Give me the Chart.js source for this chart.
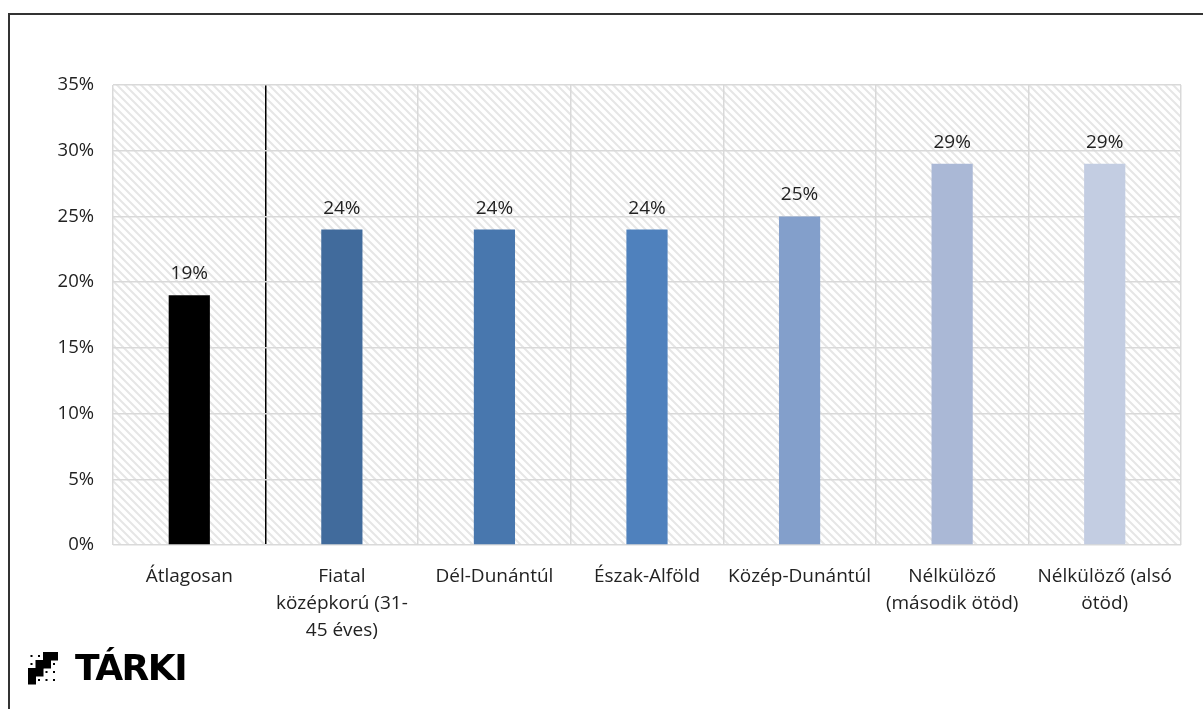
<!DOCTYPE html>
<html lang="hu">
<head>
<meta charset="UTF-8">
<title>Csoportok aránya</title>
<style>
  html, body {
    margin: 0;
    padding: 0;
    width: 1203px;
    height: 709px;
    overflow: hidden;
    background: #fff;
    font-family: 'Open Sans', sans-serif;
  }
  .frame {
    position: absolute;
    left: 8px;
    top: 13px;
    width: 1300px;
    height: 800px;
    border: 2px solid #333;
    box-sizing: border-box;
  }
  #chart {
    position: absolute;
    left: 0;
    top: 0;
  }
  .logo {
    position: absolute;
    left: 28px;
    top: 648px;
    display: flex;
    align-items: center;
  }
  .logo canvas {
    margin-right: 17px;
  }
  .logo span {
    font-family: 'DejaVu Sans', sans-serif;
    font-weight: bold;
    font-size: 36px;
    letter-spacing: -1.5px;
    color: #000;
    line-height: 40px;
  }
</style>
<script src="https://cdn.jsdelivr.net/npm/chart.js"></script>
</head>
<body>
<div class="frame"></div>
<canvas id="chart" width="1203" height="709"></canvas>
<div class="logo">
  <canvas id="logoIcon" width="30" height="33"></canvas>
  <span>TÁRKI</span>
</div>

<script>
const categories = [
  'Átlagosan',
  ['Fiatal', 'középkorú (31-', '45 éves)'],
  'Dél-Dunántúl',
  'Észak-Alföld',
  'Közép-Dunántúl',
  ['Nélkülöző', '(második ötöd)'],
  ['Nélkülöző (alsó', 'ötöd)']
];
const shares = [19, 24, 24, 24, 25, 29, 29];
const barColors = ['#000000', '#416b9c', '#4877ae', '#4f81bd', '#839fcb', '#aab8d6', '#c3cde2'];
const tickValues = [0, 5, 10, 15, 20, 25, 30, 35];

// diagonal hatch for the plot background
function makeHatch(ctx) {
  const tile = document.createElement('canvas');
  tile.width = 8;
  tile.height = 8;
  const t = tile.getContext('2d');
  t.fillStyle = '#ffffff';
  t.fillRect(0, 0, 8, 8);
  t.strokeStyle = '#e6e6e6';
  t.lineWidth = 2;
  t.beginPath();
  t.moveTo(-2, -2); t.lineTo(10, 10);
  t.moveTo(-10, -2); t.lineTo(2, 10);
  t.moveTo(6, -2); t.lineTo(18, 10);
  t.stroke();
  return ctx.createPattern(tile, 'repeat');
}

const hatchPlugin = {
  id: 'hatch',
  beforeDraw(chart) {
    const { ctx, chartArea: a } = chart;
    ctx.save();
    ctx.fillStyle = makeHatch(ctx);
    ctx.fillRect(a.left, a.top, a.right - a.left, a.bottom - a.top);
    ctx.restore();
  }
};

const valueLabels = {
  id: 'valueLabels',
  afterDatasetsDraw(chart) {
    const ctx = chart.ctx;
    const meta = chart.getDatasetMeta(0);
    ctx.save();
    ctx.font = '19px "Open Sans", sans-serif';
    ctx.fillStyle = '#222';
    ctx.textAlign = 'center';
    ctx.textBaseline = 'alphabetic';
    meta.data.forEach((bar, i) => {
      ctx.fillText(shares[i] + '%', bar.x, bar.y - 16);
    });
    ctx.restore();
  }
};

new Chart(document.getElementById('chart').getContext('2d'), {
  type: 'bar',
  data: {
    labels: categories,
    datasets: [{
      data: shares,
      backgroundColor: barColors,
      barPercentage: 0.27,
      categoryPercentage: 1
    }]
  },
  options: {
    responsive: false,
    animation: false,
    layout: { padding: { top: 85, right: 22, left: 0, bottom: 0 } },
    plugins: {
      legend: { display: false },
      tooltip: { enabled: false }
    },
    scales: {
      x: {
        afterFit(s) { s.height = 164; },
        grid: {
          offset: true,
          drawTicks: false,
          lineWidth: 1.5,
          color: ctx => ctx.index === 1 ? '#000000' : '#d9d9d9'
        },
        border: { display: false },
        ticks: {
          color: '#222',
          padding: 18,
          maxRotation: 0,
          autoSkip: false,
          font: { family: 'Open Sans', size: 19, lineHeight: 1.42 }
        }
      },
      y: {
        min: 0,
        max: 35,
        afterFit(s) { s.width = 113; },
        afterBuildTicks(s) { s.ticks = tickValues.map(v => ({ value: v })); },
        grid: { drawTicks: false, color: '#d9d9d9', lineWidth: 1.5 },
        border: { display: false },
        ticks: {
          color: '#222',
          padding: 19,
          font: { family: 'Open Sans', size: 18.5 },
          callback: v => v + '%'
        }
      }
    }
  },
  plugins: [hatchPlugin, valueLabels]
});

// stair icon of the logo
const cells = [
  'ddbb',
  'dbbd',
  'bbdd',
  'bddd'
];
const ic = document.getElementById('logoIcon').getContext('2d');
ic.fillStyle = '#000';
cells.forEach((row, r) => {
  [...row].forEach((c, k) => {
    if (c === 'b') ic.fillRect(k * 7.5, r * 8, 8, 8.5);
    else ic.fillRect(k * 7.5 + 2.5, r * 8 + 3, 2, 2);
  });
});
</script>
</body>
</html>
